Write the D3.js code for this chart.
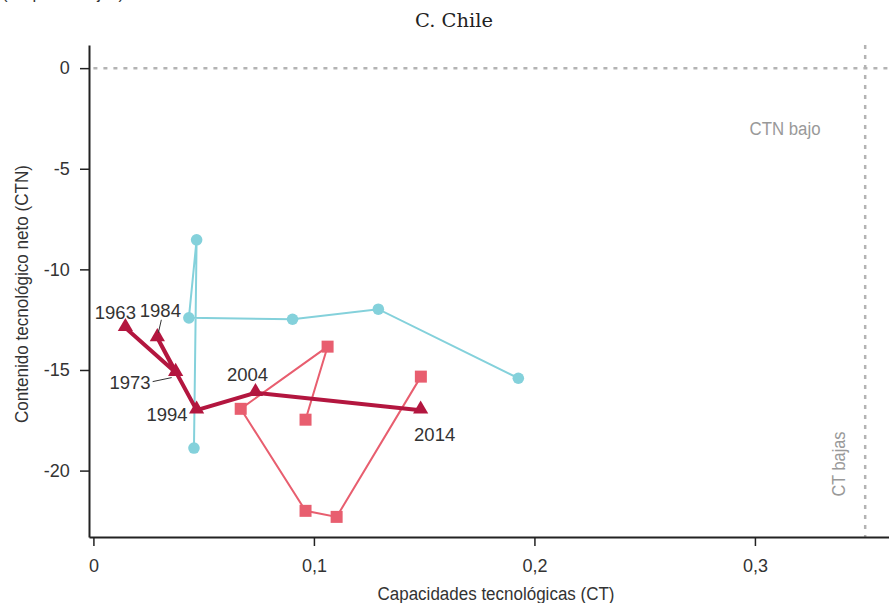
<!DOCTYPE html>
<html>
<head>
<meta charset="utf-8">
<script src="https://cdn.jsdelivr.net/npm/d3@7"></script>
<style>
  html, body { margin: 0; padding: 0; background: #fff; }
  svg { display: block; }
  .sans { font-family: "Liberation Sans", Arial, "Roboto", sans-serif; }
</style>
</head>
<body>
<svg id="chart" width="889" height="603"></svg>
<script>
// Three trajectories for Chile (CT vs CTN), one point per benchmark year
const years = [1963, 1973, 1984, 1994, 2004, 2014];

const circleCT  = [0.0456, 0.0468, 0.0433, 0.0903, 0.1292, 0.1927];
const circleCTN = [-18.88, -8.53, -12.41, -12.48, -11.98, -15.41];

const squareCT  = [0.0962, 0.1062, 0.0668, 0.0962, 0.1103, 0.1485];
const squareCTN = [-17.47, -13.84, -16.93, -22.00, -22.30, -15.33];

const triCT  = [0.0145, 0.0373, 0.0290, 0.0468, 0.0735, 0.1484];
const triCTN = [-12.90, -15.13, -13.40, -17.00, -16.13, -17.00];

const xTicks = [0, 0.1, 0.2, 0.3];
const xTickLabels = ["0", "0,1", "0,2", "0,3"];
const yTicks = [0, -5, -10, -15, -20];
const yTickLabels = ["0", "-5", "-10", "-15", "-20"];

// Threshold lines
const ctThreshold = 0.35;
const ctnThreshold = 0;

const svg = d3.select("#chart");
const margin = { left: 89, right: 0, top: 45, bottom: 66 };
const W = 889, H = 603;

const x = d3.scaleLinear().domain([-0.002, 0.3608]).range([margin.left, W - margin.right]);
const y = d3.scaleLinear().domain([-23.3, 1.15]).range([H - margin.bottom, margin.top]);

const zip = (xs, ys) => xs.map((v, i) => ({ x: v, y: ys[i], year: years[i] }));
const circles = zip(circleCT, circleCTN);
const squares = zip(squareCT, squareCTN);
const tris = zip(triCT, triCTN);

// Squeeze a text horizontally to a given length (narrow type look)
function fit(sel, len) {
  sel.attr("textLength", len).attr("lengthAdjust", "spacingAndGlyphs");
  return sel;
}

// Heading above the panel (runs off the top edge)
fit(svg.append("text")
  .attr("x", 2).attr("y", -1)
  .attr("class", "sans")
  .attr("font-size", 17).attr("fill", "#333")
  .text("(En porcentajes)"), 122);

// Panel title
fit(svg.append("text")
  .attr("x", 454).attr("y", 27)
  .attr("text-anchor", "middle")
  .attr("font-family", "'DejaVu Serif', 'Liberation Serif', serif")
  .attr("font-size", 19).attr("fill", "#222")
  .text("C. Chile"), 78);

// Dashed threshold lines
svg.append("line")
  .attr("x1", x(0)).attr("x2", W)
  .attr("y1", y(ctnThreshold)).attr("y2", y(ctnThreshold))
  .attr("stroke", "#b3b3b3").attr("stroke-width", 2.5)
  .attr("stroke-dasharray", "4,6");
svg.append("line")
  .attr("x1", x(ctThreshold)).attr("x2", x(ctThreshold))
  .attr("y1", margin.top).attr("y2", y.range()[0])
  .attr("stroke", "#b3b3b3").attr("stroke-width", 2.5)
  .attr("stroke-dasharray", "4,6");

fit(svg.append("text")
  .attr("class", "sans")
  .attr("x", 785).attr("y", 135)
  .attr("text-anchor", "middle")
  .attr("font-size", 18).attr("fill", "#999")
  .text("CTN bajo"), 71);
fit(svg.append("text")
  .attr("class", "sans")
  .attr("transform", `translate(845, 464) rotate(-90)`)
  .attr("text-anchor", "middle")
  .attr("font-size", 18).attr("fill", "#999")
  .text("CT bajas"), 65);

// Axes
const xAxis = d3.axisBottom(x).tickValues(xTicks)
  .tickFormat((d, i) => xTickLabels[i]).tickSize(9).tickSizeOuter(0);
const gx = svg.append("g").attr("transform", `translate(0, ${y.range()[0]})`).call(xAxis);
const yAxis = d3.axisLeft(y).tickValues(yTicks)
  .tickFormat((d, i) => yTickLabels[i]).tickSize(9).tickSizeOuter(0);
const gy = svg.append("g").attr("transform", `translate(${margin.left}, 0)`).call(yAxis);

[gx, gy].forEach(g => {
  g.attr("font-family", null).attr("font-size", null);
  g.select(".domain").attr("stroke", "#222").attr("stroke-width", 2);
  g.selectAll(".tick line").attr("stroke", "#222").attr("stroke-width", 1.5);
  g.selectAll(".tick text")
    .attr("class", "sans")
    .attr("font-size", 18).attr("fill", "#333");
});
gx.selectAll(".tick text").attr("dy", "1.3em");
gy.selectAll(".tick text").attr("dx", "-0.4em");

fit(svg.append("text")
  .attr("class", "sans")
  .attr("x", 496).attr("y", 600)
  .attr("text-anchor", "middle")
  .attr("font-size", 18).attr("fill", "#333")
  .text("Capacidades tecnológicas (CT)"), 237);
fit(svg.append("text")
  .attr("class", "sans")
  .attr("transform", `translate(28, 294) rotate(-90)`)
  .attr("text-anchor", "middle")
  .attr("font-size", 18).attr("fill", "#333")
  .text("Contenido tecnológico neto (CTN)"), 258);

const line = d3.line().x(d => x(d.x)).y(d => y(d.y));

const teal = "#84d1db", pink = "#e85e6f", crimson = "#b3163f";

// Circle series
svg.append("path").datum(circles).attr("d", line)
  .attr("fill", "none").attr("stroke", teal).attr("stroke-width", 2);
svg.append("g").selectAll("circle").data(circles).join("circle")
  .attr("cx", d => x(d.x)).attr("cy", d => y(d.y)).attr("r", 5.8)
  .attr("fill", teal);

// Square series
svg.append("path").datum(squares).attr("d", line)
  .attr("fill", "none").attr("stroke", pink).attr("stroke-width", 2);
svg.append("g").selectAll("rect").data(squares).join("rect")
  .attr("x", d => x(d.x) - 6).attr("y", d => y(d.y) - 6)
  .attr("width", 12).attr("height", 12)
  .attr("fill", pink);

// Triangle series
svg.append("path").datum(tris).attr("d", line)
  .attr("fill", "none").attr("stroke", crimson).attr("stroke-width", 4);
const triSym = d3.symbol().type(d3.symbolTriangle).size(100);
svg.append("g").selectAll("path").data(tris).join("path")
  .attr("d", triSym)
  .attr("transform", d => `translate(${x(d.x)}, ${y(d.y) - 1})`)
  .attr("fill", crimson);

// Year labels on the triangle series
const labels = [
  { year: 1963, dx: -10, dy: -9, anchor: "middle" },
  { year: 1984, dx: 3, dy: -21, anchor: "middle" },
  { year: 1973, dx: -25, dy: 16, anchor: "end" },
  { year: 1994, dx: -9, dy: 11, anchor: "end" },
  { year: 2004, dx: -8, dy: -12, anchor: "middle" },
  { year: 2014, dx: 14, dy: 31, anchor: "middle" }
];
labels.forEach(l => {
  const p = tris.find(t => t.year === l.year);
  svg.append("text")
    .attr("class", "sans")
    .attr("x", x(p.x) + l.dx).attr("y", y(p.y) + l.dy)
    .attr("text-anchor", l.anchor)
    .attr("font-size", 18.5).attr("fill", "#333")
    .text(l.year);
});
// Leader lines for the crowded labels
const p84 = tris.find(t => t.year === 1984);
svg.append("line")
  .attr("x1", x(p84.x) + 4).attr("y1", y(p84.y) - 18)
  .attr("x2", x(p84.x) + 1).attr("y2", y(p84.y) - 5)
  .attr("stroke", "#333").attr("stroke-width", 1);
const p73 = tris.find(t => t.year === 1973);
svg.append("line")
  .attr("x1", x(p73.x) - 23).attr("y1", y(p73.y) + 9)
  .attr("x2", x(p73.x) - 4).attr("y2", y(p73.y) + 5)
  .attr("stroke", "#333").attr("stroke-width", 1);
</script>
</body>
</html>
